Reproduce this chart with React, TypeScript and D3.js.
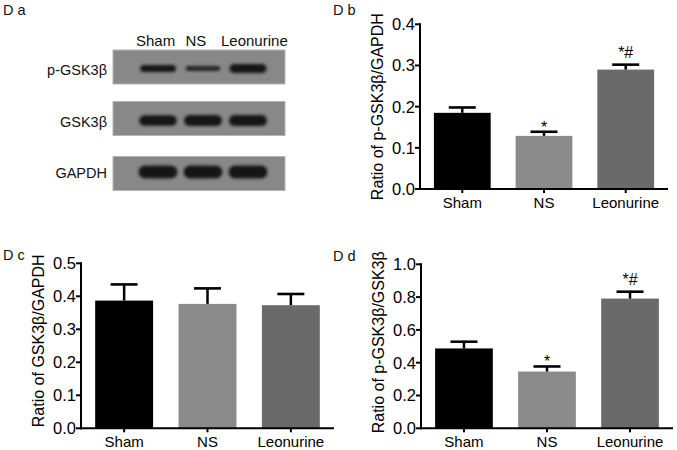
import React from "react";
import * as d3 from "d3";

// ---------- data ----------
const categories = ["Sham", "NS", "Leonurine"];

const pGsk3bGapdhMean = [0.185, 0.129, 0.29];
const pGsk3bGapdhErr = [0.013, 0.01, 0.012];
const pGsk3bGapdhMarks = ["", "*", "*#"];
const pGsk3bGapdhTicks = [0, 0.1, 0.2, 0.3, 0.4];

const gsk3bGapdhMean = [0.387, 0.377, 0.373];
const gsk3bGapdhErr = [0.049, 0.047, 0.034];
const gsk3bGapdhMarks = ["", "", ""];
const gsk3bGapdhTicks = [0, 0.1, 0.2, 0.3, 0.4, 0.5];

const pGsk3bGsk3bMean = [0.487, 0.346, 0.791];
const pGsk3bGsk3bErr = [0.041, 0.031, 0.042];
const pGsk3bGsk3bMarks = ["", "*", "*#"];
const pGsk3bGsk3bTicks = [0, 0.2, 0.4, 0.6, 0.8, 1.0];

// western blot: rows and relative band intensities per lane
const blotRows = ["p-GSK3β", "GSK3β", "GAPDH"];
const pGsk3bBand = [0.55, 0.38, 0.7];
const gsk3bBand = [0.82, 0.85, 0.85];
const gapdhBand = [1.0, 1.0, 1.0];

// ---------- style ----------
const FONT = "'Liberation Sans', Arial, Helvetica, sans-serif";
const barColors = ["#000000", "#8b8b8b", "#6a6a6a"];

type PanelProps = {
  title: string;
  titleX: number;
  titleY: number;
  axisX: number;
  axisEnd: number;
  yTop: number;
  yBottom: number;
  ticks: number[];
  means: number[];
  errs: number[];
  marks: string[];
  yLabel: string;
  labelShift: number;
};

function BarPanel(p: PanelProps) {
  const yMax = p.ticks[p.ticks.length - 1];
  const y = d3.scaleLinear().domain([0, yMax]).range([p.yBottom, p.yTop]);
  const x = d3
    .scaleBand<string>()
    .domain(categories)
    .range([p.axisX, p.axisEnd])
    .paddingInner(0.305)
    .paddingOuter(0.17);
  const fmt = d3.format(".1f");
  const capW = 27;
  const labelCenter = (p.yTop + p.yBottom) / 2 + p.labelShift;
  return (
    <g>
      <text x={p.titleX} y={p.titleY} fontSize={14.5} fontFamily={FONT} fill="#111">
        {p.title}
      </text>
      {categories.map((c, i) => {
        const bx = x(c)!;
        const cx = bx + x.bandwidth() / 2;
        const top = y(p.means[i]);
        const et = y(p.means[i] + p.errs[i]);
        const mark = p.marks[i];
        return (
          <g key={c}>
            <rect x={bx} y={top} width={x.bandwidth()} height={p.yBottom - top} fill={barColors[i]} />
            <line x1={cx} x2={cx} y1={top} y2={et} stroke="#000" strokeWidth={2.5} />
            <line x1={cx - capW / 2} x2={cx + capW / 2} y1={et} y2={et} stroke="#000" strokeWidth={2.6} />
            {mark && (
              <text
                x={cx}
                y={mark.length > 1 ? et - 7 : et + 1}
                textAnchor="middle"
                fontSize={16}
                fontFamily={FONT}
                fill="#000"
              >
                {mark}
              </text>
            )}
            <line x1={cx} x2={cx} y1={p.yBottom} y2={p.yBottom + 4} stroke="#000" strokeWidth={2} />
            <text
              x={cx}
              y={p.yBottom + 19}
              textAnchor="middle"
              fontSize={15}
              fontFamily={FONT}
              fill="#000"
            >
              {c}
            </text>
          </g>
        );
      })}
      {/* y axis */}
      <line x1={p.axisX} x2={p.axisX} y1={p.yTop - 1} y2={p.yBottom + 1} stroke="#000" strokeWidth={2} />
      {p.ticks.map((t) => (
        <g key={t}>
          <line x1={p.axisX - 5} x2={p.axisX} y1={y(t)} y2={y(t)} stroke="#000" strokeWidth={2} />
          <text
            x={p.axisX - 5}
            y={y(t)}
            dy="0.36em"
            textAnchor="end"
            fontSize={16.5}
            fontFamily={FONT}
            fill="#000"
          >
            {fmt(t)}
          </text>
        </g>
      ))}
      {/* x axis */}
      <line x1={p.axisX - 1} x2={p.axisEnd} y1={p.yBottom} y2={p.yBottom} stroke="#000" strokeWidth={2} />
      <text
        transform={`translate(${p.axisX - 37},${labelCenter}) rotate(-90)`}
        textAnchor="middle"
        fontSize={16}
        fontFamily={FONT}
        fill="#000"
      >
        {p.yLabel}
      </text>
    </g>
  );
}

function Blot() {
  const boxX0 = 113;
  const boxX1 = 285;
  const rowTops = [50, 101.5, 156.5];
  const rowH = 34;
  const bandCenters = [68.5, 120.5, 172];
  const lanes = d3.scaleBand<string>().domain(categories).range([135.5, 270.5]);
  const rowBands = [pGsk3bBand, gsk3bBand, gapdhBand];
  const headerX = [136, 185.5, 221];
  const maxThick = 13;
  return (
    <g>
      <defs>
        <filter id="bandBlur" x="-20%" y="-60%" width="140%" height="220%">
          <feGaussianBlur stdDeviation="1.4" />
        </filter>
      </defs>
      <text x={3} y={15} fontSize={14.5} fontFamily={FONT} fill="#111">
        D a
      </text>
      {categories.map((c, i) => (
        <text key={c} x={headerX[i]} y={45.5} fontSize={15} fontFamily={FONT} fill="#111">
          {c}
        </text>
      ))}
      {blotRows.map((r, ri) => (
        <g key={r}>
          <rect x={boxX0} y={rowTops[ri]} width={boxX1 - boxX0} height={rowH} fill="#888888" stroke="#b4b4b4" strokeWidth={1} />
          <text
            x={107}
            y={bandCenters[ri] + 6}
            textAnchor="end"
            fontSize={14.5}
            fontFamily={FONT}
            fill="#111"
          >
            {r}
          </text>
          {categories.map((c, li) => {
            const v = rowBands[ri][li];
            const th = maxThick * v;
            const w = 32 + 7 * v;
            const cx = lanes(c)! + lanes.bandwidth() / 2;
            return (
              <rect
                key={c}
                x={cx - w / 2}
                y={bandCenters[ri] - th / 2}
                width={w}
                height={th}
                rx={th / 2}
                ry={th / 2}
                fill={v > 0.5 ? "#141414" : "#262626"}
                filter="url(#bandBlur)"
              />
            );
          })}
        </g>
      ))}
    </g>
  );
}

export default function App() {
  return (
    <div style={{ position: "absolute", left: 0, top: 0 }}>
      <svg width={677} height={450} style={{ display: "block", background: "#fff" }}>
        <rect width={677} height={450} fill="#fff" />
        <Blot />
        <BarPanel
          title="D b"
          titleX={333}
          titleY={15}
          axisX={420}
          axisEnd={668}
          yTop={24.3}
          yBottom={189}
          ticks={pGsk3bGapdhTicks}
          means={pGsk3bGapdhMean}
          errs={pGsk3bGapdhErr}
          marks={pGsk3bGapdhMarks}
          yLabel="Ratio of p-GSK3β/GAPDH"
          labelShift={0}
        />
        <BarPanel
          title="D c"
          titleX={3}
          titleY={260}
          axisX={81}
          axisEnd={334}
          yTop={263.3}
          yBottom={428.3}
          ticks={gsk3bGapdhTicks}
          means={gsk3bGapdhMean}
          errs={gsk3bGapdhErr}
          marks={gsk3bGapdhMarks}
          yLabel="Ratio of GSK3β/GAPDH"
          labelShift={-5}
        />
        <BarPanel
          title="D d"
          titleX={333}
          titleY={261}
          axisX={421}
          axisEnd={673}
          yTop={264.3}
          yBottom={428.3}
          ticks={pGsk3bGsk3bTicks}
          means={pGsk3bGsk3bMean}
          errs={pGsk3bGsk3bErr}
          marks={pGsk3bGsk3bMarks}
          yLabel="Ratio of p-GSK3β/GSK3β"
          labelShift={-4}
        />
      </svg>
    </div>
  );
}
